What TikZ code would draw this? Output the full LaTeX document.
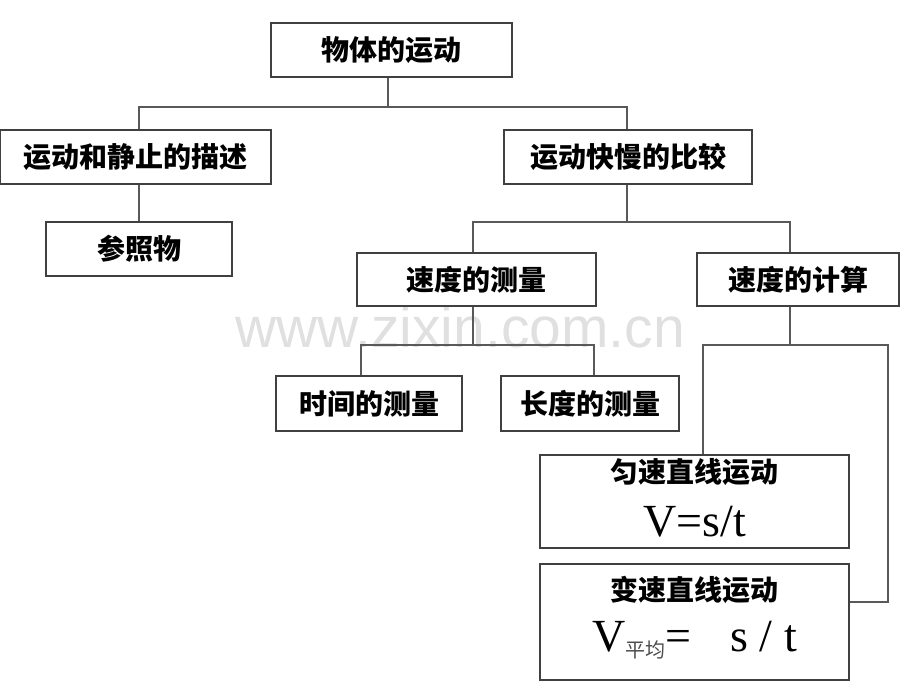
\documentclass[tikz,border=0pt]{standalone}
\usepackage{fontspec}
\setmainfont{Liberation Serif}
\newfontfamily\cjk{Noto Sans CJK SC}
\newfontfamily\wm{Liberation Sans}
\begin{document}
\begin{tikzpicture}[x=1pt,y=-1pt,
  box/.style={draw=black!75,line width=1.2pt,fill=white,inner sep=0pt},
  lab/.style={font=\cjk\bfseries\fontsize{28}{30}\selectfont},
  conn/.style={draw=black!65,line width=1.1pt}]
\useasboundingbox (0,0) rectangle (920,690);
\node[font=\wm\fontsize{57}{60}\selectfont,text=black!12] (wmk) at (460,327) {www.zixin.com.cn};
% boxes
\node[box,minimum width=241,minimum height=54] (top) at (391.5,50) {};
\node[lab] (topt) at (top) {物体的运动};
\node[box,minimum width=271,minimum height=54] (desc) at (135.5,157) {};
\node[lab] at (desc) {运动和静止的描述};
\node[box,minimum width=186,minimum height=54] (ref) at (139,249) {};
\node[lab] at (ref) {参照物};
\node[box,minimum width=248,minimum height=54] (cmp) at (628,157) {};
\node[lab] at (cmp) {运动快慢的比较};
\node[box,minimum width=239,minimum height=53] (meas) at (476.5,279.5) {};
\node[lab] at (meas) {速度的测量};
\node[box,minimum width=202,minimum height=53] (calc) at (798,279.5) {};
\node[lab] at (calc) {速度的计算};
\node[box,minimum width=186,minimum height=55] (time) at (369,403.5) {};
\node[lab] at (time) {时间的测量};
\node[box,minimum width=178,minimum height=55] (len) at (590,403.5) {};
\node[lab] at (len) {长度的测量};
\node[box,minimum width=309,minimum height=93] (uni) at (694.5,501.5) {};
\node[lab] at (694.5,472) {匀速直线运动};
\node[font=\fontsize{46}{50}\selectfont] at (694.5,522) {V=s/t};
\node[box,minimum width=309,minimum height=116] (var) at (694.5,622) {};
\node[lab] at (694.5,590) {变速直线运动};
\node[font=\fontsize{46}{50}\selectfont] at (694.5,640) {V\raisebox{-6pt}{\textcolor{black!70}{\cjk\fontsize{20}{20}\selectfont 平均}}=\hspace{0.6em} s / t};
% connectors
\coordinate (j1) at (388,107);
\draw[conn] (top.south -| j1) -- (j1);
\draw[conn] (desc.north -| 139,0) |- (j1) -| (cmp.north -| 627,0);
\draw[conn] (desc.south -| 139,0) -- (ref.north -| 139,0);
\coordinate (j2) at (627,222);
\draw[conn] (cmp.south -| j2) -- (j2);
\draw[conn] (meas.north -| 473,0) |- (j2) -| (calc.north -| 790,0);
\coordinate (j3) at (473,345);
\draw[conn] (meas.south -| j3) -- (j3);
\draw[conn] (time.north -| 361,0) |- (j3) -| (len.north -| 594,0);
\coordinate (j4) at (790,345);
\draw[conn] (calc.south -| j4) -- (j4);
\draw[conn] (uni.north -| 703,0) |- (j4) -| (888,602) -- (var.east |- 0,602);
\end{tikzpicture}
\end{document}
